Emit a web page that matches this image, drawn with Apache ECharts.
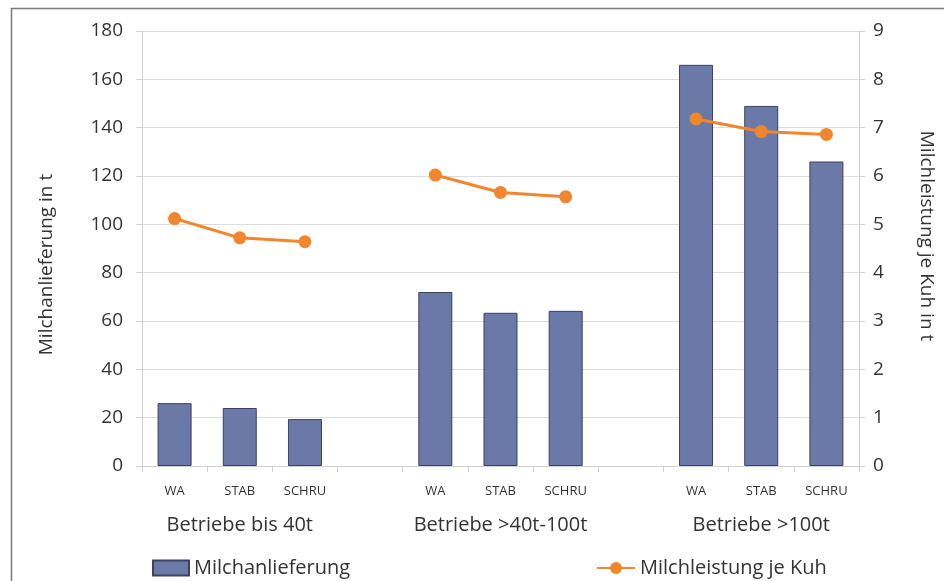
<!DOCTYPE html>
<html>
<head>
<meta charset="utf-8">
<script src="https://cdn.jsdelivr.net/npm/echarts@6/dist/echarts.min.js"></script>
<style>
html,body{margin:0;padding:0;background:#fff;}
#chart{width:944px;height:581px;}
</style>
</head>
<body>
<div id="chart"></div>
<script>
// Data
var categories = ['WA','STAB','SCHRU','','WA','STAB','SCHRU','','WA','STAB','SCHRU'];
var groupLabels = ['','Betriebe bis 40t','','','','Betriebe >40t-100t','','','','Betriebe >100t',''];
var milchanlieferung = [26, 24, 19.4, null, 72, 63.4, 64.2, null, 166, 149, 126];
var milchleistung = [5.12, 4.72, 4.64, null, 6.02, 5.66, 5.57, null, 7.18, 6.92, 6.86];
var leftTicks = {min: 0, max: 180, interval: 20};
var rightTicks = {min: 0, max: 9, interval: 1};

var FONT = '"Open Sans", "Noto Sans", sans-serif';
var chart = echarts.init(document.getElementById('chart'), null, {renderer: 'canvas'});
chart.setOption({
  animation: false,
  backgroundColor: '#fff',
  graphic: [{
    type: 'rect', left: 9, top: 6, shape: {x: 0, y: 0, width: 1000, height: 1000},
    style: {fill: 'none', stroke: '#7a7a7a', lineWidth: 1.5}, silent: true, z: -1
  }],
  grid: {left: 142, right: 85, top: 31, bottom: 115},
  legend: [
    {data: [{name: 'Milchanlieferung', icon: 'rect'}], left: 147, top: 553, itemWidth: 36, itemHeight: 15,
     textStyle: {fontFamily: FONT, fontSize: 20, color: '#333'}, selectedMode: false},
    {data: ['Milchleistung je Kuh'], left: 591, top: 553, itemWidth: 38, itemHeight: 15,
     textStyle: {fontFamily: FONT, fontSize: 20, color: '#333'}, selectedMode: false}
  ],
  xAxis: [{
    type: 'category', data: categories, position: 'bottom',
    axisLine: {lineStyle: {color: '#d0d0d0'}},
    axisTick: {show: true, length: 6, lineStyle: {color: '#d0d0d0'}, alignWithLabel: false, interval: 0},
    axisLabel: {interval: 0, margin: 19, fontFamily: FONT, fontSize: 13, color: '#333'}
  }, {
    type: 'category', data: groupLabels, position: 'bottom',
    axisLine: {show: false}, axisTick: {show: false},
    axisLabel: {interval: 0, margin: 49, fontFamily: FONT, fontSize: 20, color: '#333'}
  }],
  yAxis: [{
    type: 'value', min: leftTicks.min, max: leftTicks.max, interval: leftTicks.interval, position: 'left',
    name: 'Milchanlieferung in t', nameLocation: 'middle', nameGap: 86, nameRotate: 90,
    nameTextStyle: {fontFamily: FONT, fontSize: 19, color: '#333', padding: [0, 32, 0, 0]},
    axisLine: {show: true, lineStyle: {color: '#d0d0d0'}},
    axisTick: {show: true, length: 6, lineStyle: {color: '#d0d0d0'}},
    axisLabel: {margin: 19, fontFamily: FONT, fontSize: 19, color: '#333'},
    splitLine: {show: true, lineStyle: {color: '#dcdcdc'}}
  }, {
    type: 'value', min: rightTicks.min, max: rightTicks.max, interval: rightTicks.interval, position: 'right',
    name: 'Milchleistung je Kuh in t', nameLocation: 'middle', nameGap: 58, nameRotate: -90,
    nameTextStyle: {fontFamily: FONT, fontSize: 19, color: '#333', padding: [0, 25, 0, 0]},
    axisLine: {show: true, lineStyle: {color: '#d0d0d0'}},
    axisTick: {show: true, length: 6, lineStyle: {color: '#d0d0d0'}},
    axisLabel: {margin: 14, fontFamily: FONT, fontSize: 19, color: '#333'},
    splitLine: {show: false}
  }],
  series: [{
    name: 'Milchanlieferung', type: 'bar', data: milchanlieferung, barWidth: 34,
    itemStyle: {color: '#6b79a8', borderColor: '#3b4160', borderWidth: 1}
  }, {
    name: 'Milchleistung je Kuh', type: 'line', yAxisIndex: 1, data: milchleistung,
    connectNulls: false, symbol: 'circle', symbolSize: 13,
    lineStyle: {color: '#f0862e', width: 3}, itemStyle: {color: '#f0862e'}
  }]
});
</script>
</body>
</html>
